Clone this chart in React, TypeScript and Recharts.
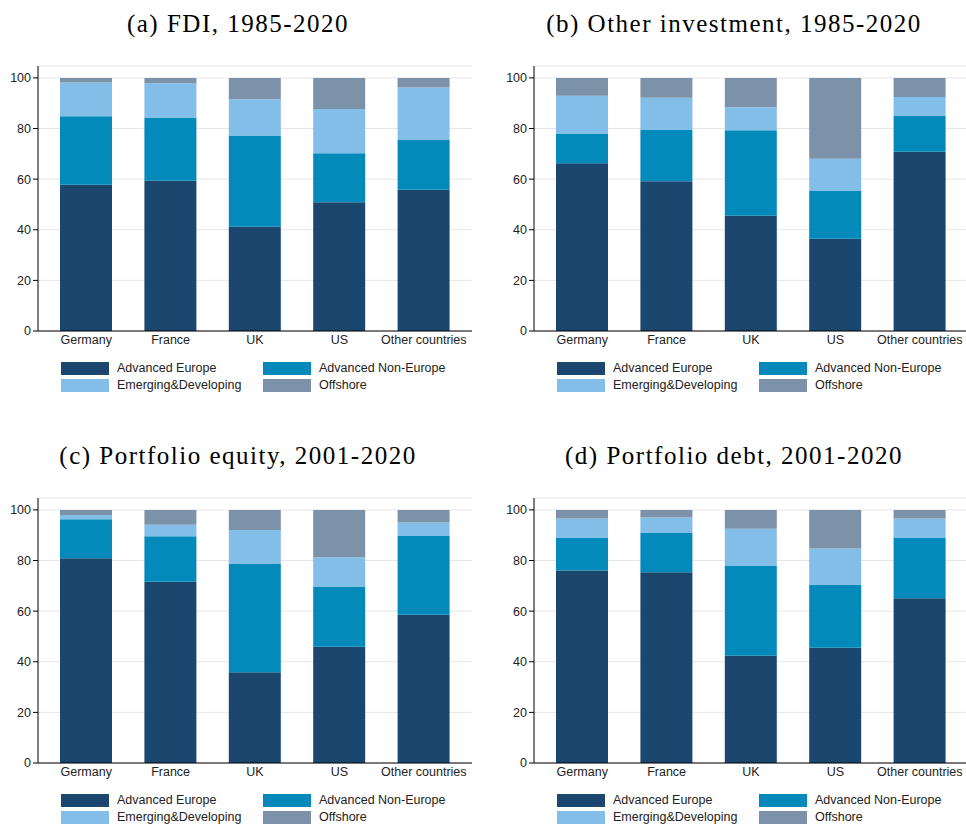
import { Bar, BarChart, CartesianGrid, XAxis, YAxis } from "recharts";

const countries = ["Germany", "France", "UK", "US", "Other countries"];

// shares in percent, stacked bottom -> top
const fdiAdvEurope = [57.8, 59.4, 41.2, 50.9, 55.8];
const fdiAdvNonEurope = [27.0, 25.0, 36.0, 19.3, 19.7];
const fdiEmerging = [13.4, 13.5, 14.4, 17.5, 20.7];
const fdiOffshore = [1.8, 2.1, 8.4, 12.3, 3.8];

const oiAdvEurope = [66.3, 59.2, 45.5, 36.4, 70.8];
const oiAdvNonEurope = [11.7, 20.4, 33.8, 18.9, 14.3];
const oiEmerging = [14.9, 12.6, 9.1, 12.8, 7.4];
const oiOffshore = [7.1, 7.8, 11.6, 31.9, 7.5];

const peAdvEurope = [80.9, 71.6, 35.9, 45.9, 58.6];
const peAdvNonEurope = [15.4, 18.0, 42.9, 23.8, 31.1];
const peEmerging = [1.7, 4.5, 13.3, 11.6, 5.3];
const peOffshore = [2.0, 5.9, 7.9, 18.7, 5.0];

const pdAdvEurope = [76.1, 75.4, 42.4, 45.5, 65.1];
const pdAdvNonEurope = [13.0, 15.7, 35.4, 25.0, 24.0];
const pdEmerging = [7.5, 5.9, 14.8, 14.2, 7.5];
const pdOffshore = [3.4, 3.0, 7.4, 15.3, 3.4];

const yTicks = [0, 20, 40, 60, 80, 100];

const SERIES = [
  { key: "advEurope", name: "Advanced Europe", color: "#1b476f" },
  { key: "advNonEurope", name: "Advanced Non-Europe", color: "#038aba" },
  { key: "emerging", name: "Emerging&Developing", color: "#83bee8" },
  { key: "offshore", name: "Offshore", color: "#7c92a8" }
];

const SANS = "'Liberation Sans', Arial, sans-serif";

type Row = { country: string; advEurope: number; advNonEurope: number; emerging: number; offshore: number };

const buildRows = (a: number[], b: number[], c: number[], d: number[]): Row[] =>
  countries.map((country, i) => ({ country, advEurope: a[i], advNonEurope: b[i], emerging: c[i], offshore: d[i] }));

type PanelProps = { title: string; x: number; y: number; width: number; rows: Row[] };

const Panel = ({ title, x, y, width, rows }: PanelProps) => (
  <>
    <div
      style={{
        position: "absolute",
        left: x,
        top: y + 9,
        width: 476,
        textAlign: "center",
        fontFamily: "'Liberation Serif', 'DejaVu Serif', serif",
        fontSize: 25,
        letterSpacing: 1.5,
        lineHeight: "30px",
        color: "#000"
      }}
    >
      {title}
    </div>
    <div style={{ position: "absolute", left: x, top: y + 60 }}>
      <BarChart
        width={width}
        height={290}
        data={rows}
        margin={{ top: 6, right: width - 38 - 434, left: 8, bottom: 0 }}
        barSize={52}
      >
        <CartesianGrid vertical={false} stroke="#e6e6e6" />
        <XAxis
          dataKey="country"
          interval={0}
          height={19}
          padding={{ left: 6, right: 6 }}
          tickLine={false}
          tickSize={2}
          tickMargin={2}
          axisLine={{ stroke: "#000" }}
          tick={{ fontSize: 12.5, fill: "#222", fontFamily: SANS }}
        />
        <YAxis
          type="number"
          domain={[0, 104.7]}
          ticks={yTicks}
          width={30}
          tickSize={5}
          tickMargin={2}
          axisLine={{ stroke: "#000" }}
          tickLine={{ stroke: "#000" }}
          tick={{ fontSize: 12.5, fill: "#222", fontFamily: SANS }}
        />
        {SERIES.map((s) => (
          <Bar key={s.key} dataKey={s.key} name={s.name} stackId="a" fill={s.color} isAnimationActive={false} />
        ))}
      </BarChart>
    </div>
    {SERIES.map((s, i) => (
      <div
        key={s.key}
        style={{
          position: "absolute",
          left: x + (i % 2 === 0 ? 61 : 263),
          top: y + 361 + Math.floor(i / 2) * 17,
          display: "flex",
          alignItems: "center",
          fontFamily: SANS,
          fontSize: 12.5,
          color: "#222",
          whiteSpace: "nowrap"
        }}
      >
        <span style={{ display: "inline-block", width: 48, height: 13, background: s.color, marginRight: 8 }} />
        {s.name}
      </div>
    ))}
  </>
);

export default function App() {
  return (
    <div style={{ position: "absolute", left: 0, top: 0, width: 966, height: 824, background: "#fff", overflow: "hidden" }}>
      <Panel title="(a) FDI, 1985-2020" x={0} y={0} width={480} rows={buildRows(fdiAdvEurope, fdiAdvNonEurope, fdiEmerging, fdiOffshore)} />
      <Panel title="(b) Other investment, 1985-2020" x={496} y={0} width={470} rows={buildRows(oiAdvEurope, oiAdvNonEurope, oiEmerging, oiOffshore)} />
      <Panel title="(c) Portfolio equity, 2001-2020" x={0} y={432} width={480} rows={buildRows(peAdvEurope, peAdvNonEurope, peEmerging, peOffshore)} />
      <Panel title="(d) Portfolio debt, 2001-2020" x={496} y={432} width={470} rows={buildRows(pdAdvEurope, pdAdvNonEurope, pdEmerging, pdOffshore)} />
    </div>
  );
}
